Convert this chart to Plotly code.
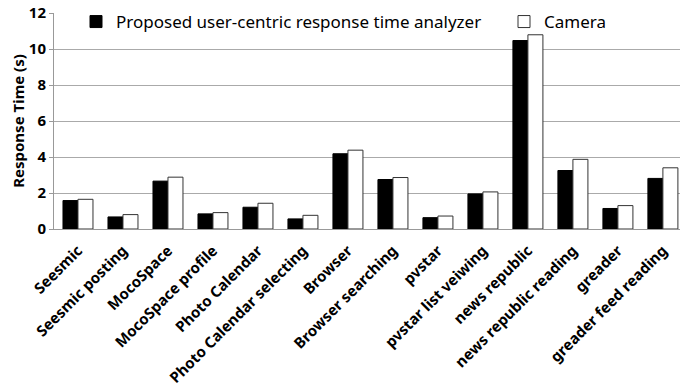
import plotly.graph_objects as go

categories = ["Seesmic", "Seesmic posting", "MocoSpace", "MocoSpace profile",
              "Photo Calendar", "Photo Calendar selecting", "Browser",
              "Browser searching", "pvstar", "pvstar list veiwing",
              "news republic", "news republic reading", "greader",
              "greader feed reading"]
proposed = [1.58, 0.67, 2.66, 0.84, 1.21, 0.56, 4.18, 2.75, 0.63, 1.95, 10.47, 3.25, 1.14, 2.81]
camera = [1.65, 0.80, 2.88, 0.91, 1.43, 0.76, 4.38, 2.86, 0.72, 2.06, 10.79, 3.87, 1.30, 3.40]
y_ticks = [0, 2, 4, 6, 8, 10, 12]

FONT = "Noto Sans"

fig = go.Figure()
fig.add_trace(go.Bar(x=categories, y=proposed, name="Proposed user-centric response time analyzer",
                     legend="legend",
                     marker=dict(color="black", line=dict(color="black", width=1))))
fig.add_trace(go.Bar(x=categories, y=camera, name="Camera", legend="legend2",
                     marker=dict(color="white", line=dict(color="#333333", width=1))))

PW = 626.0
leg_y = (229 - 22) / 216.0

fig.update_layout(
    width=680, height=387,
    margin=dict(l=54, r=0, t=13, b=158, autoexpand=False),
    plot_bgcolor="white", paper_bgcolor="white",
    barmode="group", bargap=1/3, bargroupgap=0,
    font=dict(family=FONT, color="black"),
    showlegend=True,
    legend=dict(orientation="h", x=(76 - 54) / PW, y=leg_y, xanchor="left", yanchor="middle",
                bgcolor="rgba(0,0,0,0)", font=dict(size=17, family=FONT), itemwidth=30),
    legend2=dict(orientation="h", x=(504 - 54) / PW, y=leg_y, xanchor="left", yanchor="middle",
                 bgcolor="rgba(0,0,0,0)", font=dict(size=17, family=FONT), itemwidth=30),
    xaxis=dict(range=[-0.533, 13.38], tickangle=-45, showgrid=False, automargin=False,
               showline=True, linecolor="#999999", linewidth=1,
               tickfont=dict(size=15, family=FONT, weight="bold"), ticks="",
               ticklabelstandoff=6),
    yaxis=dict(range=[0, 12], tickvals=y_ticks, showgrid=True, gridcolor="#aaaaaa", gridwidth=1,
               automargin=False,
               showline=True, linecolor="#999999", linewidth=1, ticks="outside",
               ticklen=4, tickcolor="#999999", zeroline=False,
               tickfont=dict(size=15, family=FONT, weight="bold"),
               title=dict(text="Response Time (s)", font=dict(size=15, family=FONT, weight="bold"), standoff=0)),
)

fig.write_html("out.html", post_script="document.body.style.margin='0px';",
               config={"displayModeBar": False})
